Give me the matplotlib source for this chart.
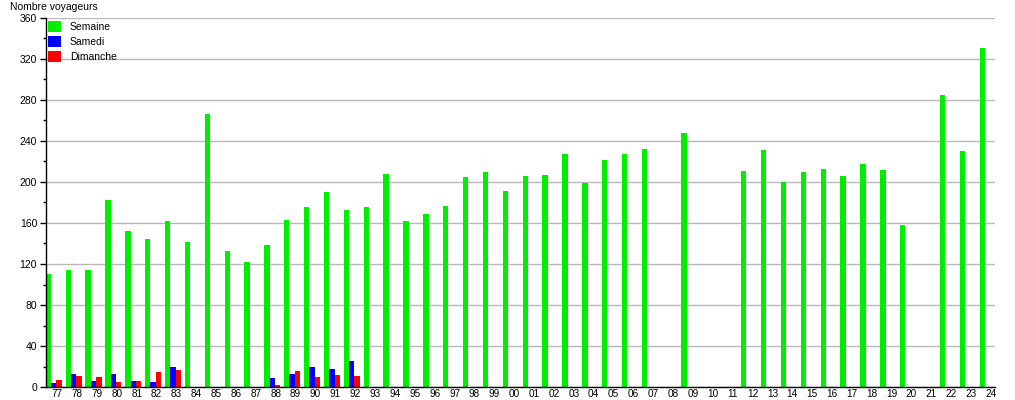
import numpy as np
import matplotlib.pyplot as plt
from matplotlib.ticker import MultipleLocator

plt.rcParams['font.family'] = ['Liberation Sans', 'DejaVu Sans']

nan = np.nan

years = ['77', '78', '79', '80', '81', '82', '83', '84', '85', '86', '87', '88',
         '89', '90', '91', '92', '93', '94', '95', '96', '97', '98', '99', '00',
         '01', '02', '03', '04', '05', '06', '07', '08', '09', '10', '11', '12',
         '13', '14', '15', '16', '17', '18', '19', '20', '21', '22', '23', '24']

semaine = [110, 114, 114, 182, 152, 144, 162, 141, 266, 133, 122, 139,
           163, 176, 190, 173, 176, 208, 162, 169, 177, 205, 210, 191,
           206, 207, 227, 199, 221, 227, 232, nan, 248, nan, nan, 211,
           231, 200, 210, 213, 206, 218, 212, 158, nan, 285, 230, 331]

samedi = [4, 13, 6, 13, 6, 5, 20, nan, nan, nan, nan, 9,
          13, 20, 18, 25] + [nan] * 32

dimanche = [7, 11, 10, 5, 6, 15, 17, nan, nan, nan, nan, 2,
            16, 10, 12, 11] + [nan] * 32

x = np.arange(len(years))
w = 0.27

fig = plt.figure(figsize=(10.15, 4.0), dpi=100)
ax = fig.add_axes([45.5 / 1015, 13 / 400, (995 - 45.5) / 1015, (387 - 18) / 400])

ax.bar(x, semaine, width=w, align='edge', color='#00ee00', label='Semaine', zorder=2)
ax.bar(x + w, samedi, width=w, align='edge', color='#0000ff', label='Samedi', zorder=2)
ax.bar(x + 2 * w, dimanche, width=w, align='edge', color='#ff0000', label='Dimanche', zorder=2)

ax.set_xlim(-0.01, 47.78)
ax.set_ylim(0, 360)

ax.yaxis.set_major_locator(MultipleLocator(40))
ax.yaxis.set_minor_locator(MultipleLocator(20))
ax.grid(axis='y', which='major', color='#b8b8b8', linewidth=1, zorder=0)
ax.set_axisbelow(True)

ax.set_xticks(x + 0.58)
ax.set_xticklabels(years)
ax.tick_params(axis='x', length=0, pad=1.5, labelsize=7.2)
ax.tick_params(axis='y', which='major', length=4, width=1, pad=2, labelsize=7.5)
ax.tick_params(axis='y', which='minor', length=2, width=1)

for s in ['top', 'right']:
    ax.spines[s].set_visible(False)
ax.spines['left'].set_linewidth(1)
ax.spines['bottom'].set_linewidth(1)

fig.text(10 / 1015, 1 - 7 / 400, 'Nombre voyageurs', fontsize=7.5, va='center', ha='left')

ax.legend(loc='upper left', bbox_to_anchor=(48 / 1015, 1 - 21 / 400),
          bbox_transform=fig.transFigure, frameon=False, fontsize=7.5,
          handlelength=1.25, handleheight=1.25, handletextpad=0.85,
          labelspacing=0.38, borderpad=0, borderaxespad=0)

fig.savefig('out.png', dpi=100)
